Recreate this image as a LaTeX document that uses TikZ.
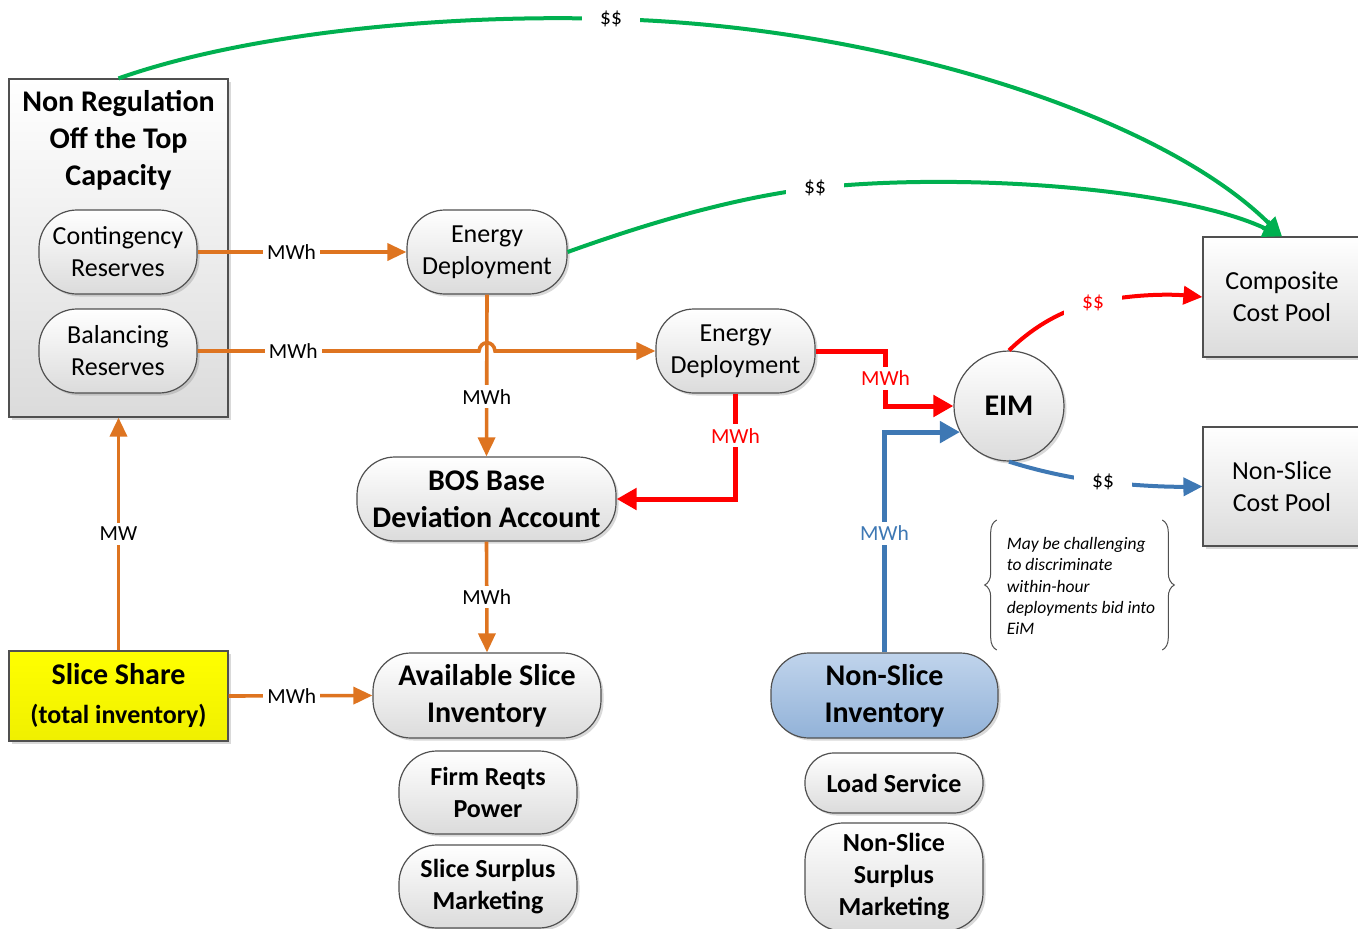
\documentclass[tikz,border=0pt]{standalone}
\usepackage{fontspec}
\setmainfont{Carlito}
\usetikzlibrary{arrows.meta,shadows,decorations.pathreplacing}

\definecolor{edgegray}{RGB}{80,80,80}
\definecolor{mwhorange}{RGB}{222,116,32}
\definecolor{costgreen}{RGB}{0,176,80}
\definecolor{eimred}{RGB}{255,0,0}
\definecolor{nsblue}{RGB}{62,120,180}
\definecolor{nstop}{RGB}{192,212,236}
\definecolor{nsbottom}{RGB}{146,178,216}

\tikzset{
  shade box/.style={draw=edgegray, line width=1.2pt, top color=white, bottom color=black!14,
    drop shadow={shadow xshift=2.5pt, shadow yshift=-2.5pt, opacity=0.3}},
  pool/.style={shade box, rectangle, align=center, font=\fontsize{26}{32}\selectfont},
  pill/.style={shade box, rectangle, rounded corners=38pt, inner sep=0pt, align=center,
    font=\fontsize{26}{32}\selectfont},
  bigpill/.style={pill, font=\fontsize{30}{37}\selectfont\bfseries},
  listpill/.style={pill, font=\fontsize{26}{32}\selectfont\bfseries},
  flow/.style={draw=mwhorange, line width=3.6pt, -{Triangle[length=19pt,width=17pt]}},
  eimflow/.style={line width=5pt, -{Triangle[length=20pt,width=21pt]}},
  cashflow/.style={line width=4pt, -{Triangle[length=19pt,width=18pt]}},
  qty/.style={fill=white, text=black, inner sep=4pt, font=\fontsize{21.5}{26}\selectfont},
  cash/.style={qty, inner xsep=18pt},
  notebrace/.style={draw=edgegray, line width=1pt, decorate, decoration={brace, amplitude=12pt}},
}

\begin{document}
\begin{tikzpicture}[x=1pt,y=-1pt]
  \useasboundingbox (0,0) rectangle (1358,929);

  \node[pool, minimum width=219pt, minimum height=338pt] (otop) at (118.5,248) {};
  \node[font=\fontsize{30}{37}\selectfont\bfseries, align=center] (otoptitle) at (118.5,140) {Non Regulation\\Off the Top\\Capacity};
  \node[pill, minimum width=158pt, minimum height=84pt] (cont) at (118,252) {Contingency\\Reserves};
  \node[pill, minimum width=158pt, minimum height=84pt] (bal) at (118,351) {Balancing\\Reserves};

  \node[pill, minimum width=160pt, minimum height=84pt] (ed1) at (487,252) {Energy\\Deployment};
  \node[pill, minimum width=159pt, minimum height=84pt] (ed2) at (735.5,351) {Energy\\Deployment};
  \node[bigpill, minimum width=259pt, minimum height=84pt] (bos) at (486.5,499) {BOS Base\\Deviation Account};
  \node[bigpill, minimum width=228pt, minimum height=85pt] (avail) at (487,695.5) {Available Slice\\Inventory};
  \node[listpill, minimum width=178pt, minimum height=83pt] (firm) at (488,792.5) {Firm Reqts\\Power};
  \node[listpill, minimum width=178pt, minimum height=83pt] (surplus) at (488,886.5) {Slice Surplus\\Marketing};

  \node[shade box, rectangle, top color=yellow, bottom color=yellow!94!black, align=center,
    minimum width=219pt, minimum height=90pt, font=\fontsize{26}{39}\selectfont\bfseries] (share) at (118.5,696)
    {{\fontsize{30}{39}\selectfont Slice Share}\\(total inventory)};

  \node[bigpill, top color=nstop, bottom color=nsbottom, minimum width=227pt, minimum height=85pt] (nsinv) at (884.5,695.5) {Non-Slice\\Inventory};
  \node[listpill, rounded corners=29pt, minimum width=178pt, minimum height=60pt] (load) at (894,783) {Load Service};
  \node[listpill, minimum width=178pt, minimum height=108pt] (nssurplus) at (894,877) {Non-Slice\\Surplus\\Marketing};

  \node[shade box, circle, minimum size=110pt, inner sep=0pt, font=\fontsize{30}{36}\selectfont\bfseries] (eim) at (1009,406) {EIM};
  \node[pool, minimum width=158pt, minimum height=120pt] (comp) at (1282,297) {Composite\\Cost Pool};
  \node[pool, minimum width=158pt, minimum height=119pt] (nscp) at (1282,486.5) {Non-Slice\\Cost Pool};

  \node[font=\fontsize{17.5}{21.2}\selectfont\itshape, align=left, inner sep=0pt] (note) at (1081,586)
    {May be challenging\\to discriminate\\within-hour\\deployments bid into\\EiM};
  \draw[notebrace] ([shift={(-10,64)}]note.west) -- ([shift={(-10,-66)}]note.west);
  \draw[notebrace] ([shift={(7,-66)}]note.east) -- ([shift={(7,64)}]note.east);

  \draw[flow] (ed1.south) -- node[qty, pos=0.63] {MWh} (bos.north);
  \draw[flow] (cont.east) -- node[qty, pos=0.45] {MWh} (ed1.west);
  \draw[flow] (bal.east) -- node[qty, pos=0.34] {MWh} (479,351) .. controls (480,340) and (494,340) .. (495,351) -- (ed2.west);
  \draw[flow] (bos.south) -- node[qty] {MWh} (avail.north);
  \draw[flow] (share.north) -- node[qty] {MW} (otop.south);
  \draw[flow] (share.east) -- node[qty, pos=0.44] {MWh} (avail.west);

  \draw[eimflow, eimred] (ed2.south) |- node[qty, text=eimred, pos=0.2] {MWh} (bos.east);
  \draw[eimflow, eimred] (ed2.east) -- ++(70,0) |- node[qty, text=eimred, pos=0.25] {MWh} (eim.west);
  \draw[eimflow, nsblue] (nsinv.north) |- node[qty, text=nsblue, pos=0.27] {MWh} (eim.208);

  \draw[cashflow, costgreen] (otop.north) .. controls (250,32) and (450,14) .. (611,19) node[cash] {\$\$} .. controls (880,26) and (1160,115) .. (comp.north);
  \draw[cashflow, costgreen] (ed1.east) .. controls (640,226) and (730,198) .. (815,188) node[cash] {\$\$} .. controls (960,172) and (1180,188) .. (comp.north);
  \draw[cashflow, eimred] (eim.north) .. controls (1030,330) and (1058,311) .. (1093,303) node[cash, text=eimred] {\$\$} .. controls (1130,294) and (1170,294) .. (comp.west);
  \draw[cashflow, nsblue] (eim.south) .. controls (1035,470) and (1070,478) .. (1103,482) node[cash] {\$\$} .. controls (1140,486) and (1170,487) .. (nscp.west);
\end{tikzpicture}
\end{document}
